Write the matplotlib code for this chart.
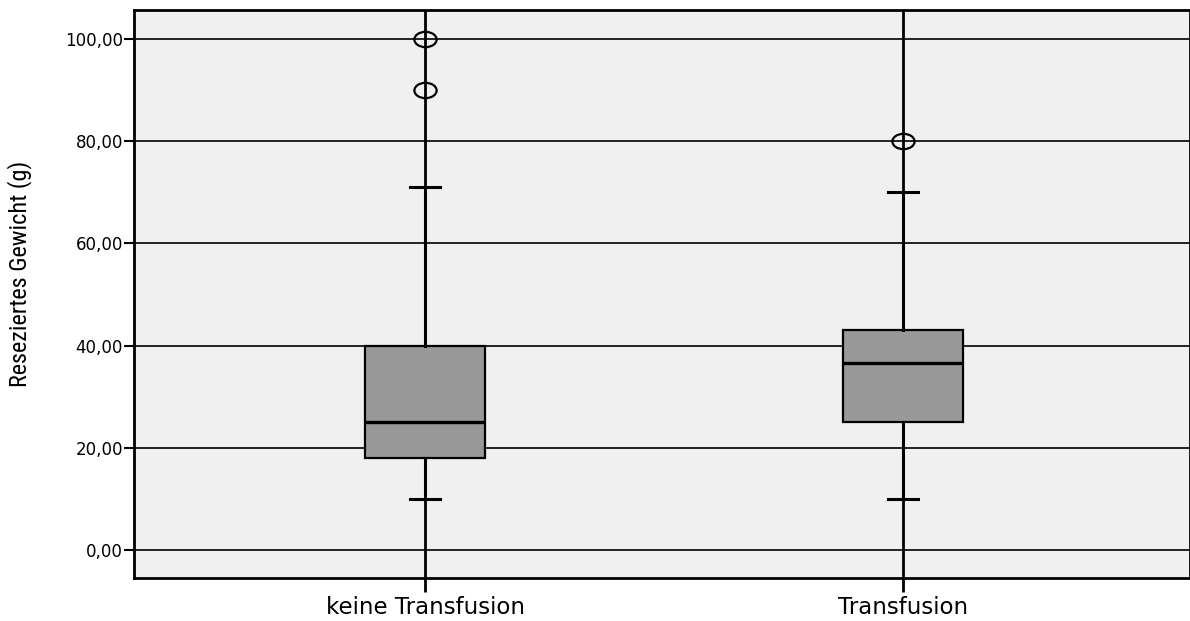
import matplotlib

matplotlib.use("Agg")
import matplotlib.path as mpath  # noqa: E402
import matplotlib.pyplot as plt  # noqa: E402
from matplotlib.transforms import Affine2D  # noqa: E402

# Values
groups = ["keine Transfusion", "Transfusion"]
whisker_low = [10, 10]
q1 = [18, 25]
median = [25, 36.5]
q3 = [40, 43]
whisker_high = [71, 70]
outliers = [[90, 100], [80]]

y_ticks = [0, 20, 40, 60, 80, 100]

plt.rcParams["font.family"] = ["DejaVu Sans"]

fig = plt.figure(figsize=(11.9, 6.21), dpi=100)
ax = fig.add_axes([134 / 1190, 1 - 578 / 621, 1 - 134 / 1190, (578 - 10) / 621])
ax.set_facecolor("#f0f0f0")

stats = []
for i, name in enumerate(groups):
    stats.append({
        "label": name,
        "whislo": whisker_low[i],
        "q1": q1[i],
        "med": median[i],
        "q3": q3[i],
        "whishi": whisker_high[i],
        "fliers": outliers[i],
    })

# SPSS draws its outliers as flat ellipses
ellipse = mpath.Path.unit_circle().transformed(Affine2D().scale(1.45, 1.0))

positions = list(range(len(groups)))
ax.bxp(
    stats,
    positions=positions,
    widths=0.25,
    patch_artist=True,
    boxprops=dict(facecolor="#999999", edgecolor="black", linewidth=1.6),
    medianprops=dict(color="black", linewidth=2.4),
    whiskerprops=dict(color="black", linewidth=2.2),
    capprops=dict(color="black", linewidth=2.2),
    capwidths=0.063,
    flierprops=dict(marker=ellipse, markersize=16, markerfacecolor="none",
                    markeredgecolor="black", markeredgewidth=1.6),
    zorder=3,
)

# category lines through the whole plot, horizontal grid
for p in positions:
    ax.axvline(p, color="black", linewidth=2.0, zorder=1)
for t in y_ticks:
    ax.axhline(t, color="black", linewidth=1.2, zorder=1)

ax.set_xlim(-0.609, 1.6)
ax.set_ylim(-5.5, 105.7)
ax.set_yticks(y_ticks)
ax.set_yticklabels([f"{t:.2f}".replace(".", ",") for t in y_ticks], fontsize=12)
ax.set_xticks(positions)
ax.set_xticklabels(groups, fontsize=16.5)
ax.tick_params(axis="y", length=7, width=1.5, direction="out", pad=1)
ax.tick_params(axis="x", length=10, width=2, direction="out", pad=3)
ax.set_ylabel("Reseziertes Gewicht (g)", fontsize=17.5,
              family=["Roboto Condensed", "DejaVu Sans"])
ax.yaxis.set_label_coords(-0.097, 0.535)

for side in ["left", "bottom", "top", "right"]:
    ax.spines[side].set_linewidth(2.0)

fig.savefig("out.png", dpi=100)
